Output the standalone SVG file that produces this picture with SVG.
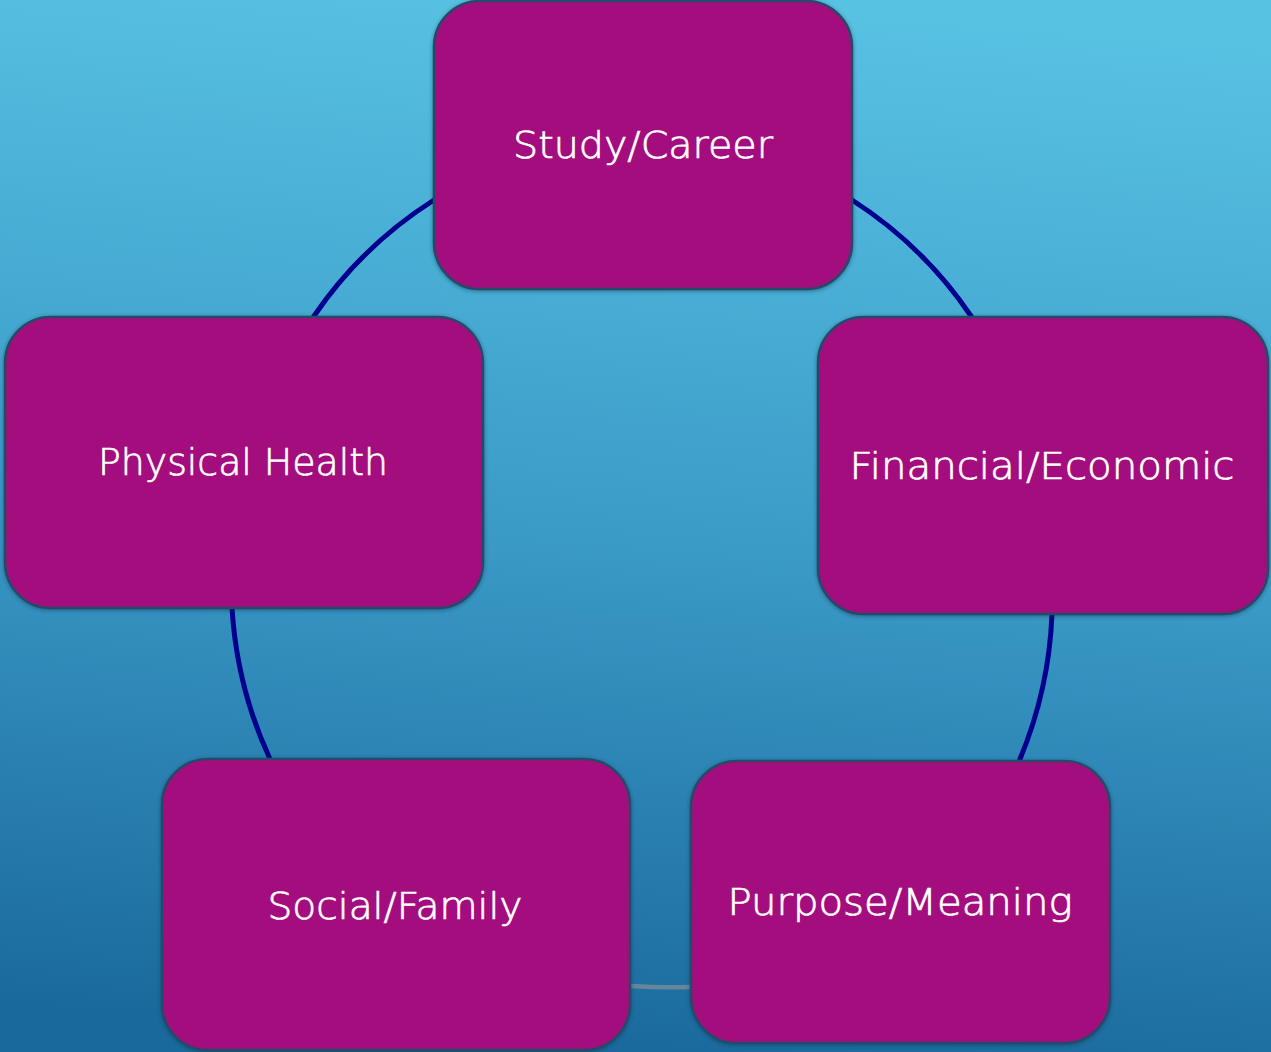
<svg xmlns="http://www.w3.org/2000/svg" width="1271" height="1052" viewBox="0 0 1271 1052">
  <defs>
    <linearGradient id="bg" x1="0.55" y1="0" x2="0.45" y2="1">
      <stop offset="0" stop-color="#58C2E3"/>
      <stop offset="0.5" stop-color="#3C9CC8"/>
      <stop offset="1" stop-color="#1A699D"/>
    </linearGradient>
    <filter id="shadow" x="-10%" y="-10%" width="120%" height="120%">
      <feGaussianBlur in="SourceAlpha" stdDeviation="2"/>
      <feOffset dx="0" dy="1" result="b"/>
      <feFlood flood-color="#12314a" flood-opacity="0.5"/>
      <feComposite in2="b" operator="in"/>
      <feMerge>
        <feMergeNode/>
        <feMergeNode in="SourceGraphic"/>
      </feMerge>
    </filter>
  </defs>
  <style>
    .box { fill: #A4107E; stroke: #284868; stroke-width: 2.5; filter: url(#shadow); }
    .label { fill: #FFFFFF; stroke: #FFFFFF; stroke-width: 0.7; font-family: "DejaVu Sans", "Liberation Sans", sans-serif; font-weight: 200; font-size: 38px; text-anchor: middle; }
    .link { fill: none; stroke: #00008E; stroke-width: 5; stroke-linecap: round; }
    .link-soft { fill: none; stroke: #66869A; stroke-width: 4.5; stroke-linecap: round; }
  </style>

  <rect x="0" y="0" width="1271" height="1052" fill="url(#bg)"/>

  <!-- cycle arcs between the life areas -->
  <g id="connectors">
    <path class="link" d="M314,316 A412,412 0 0 1 434,200"/>
    <path class="link" d="M852,200 A412,412 0 0 1 971,316"/>
    <path class="link" d="M1052,614 A420,420 0 0 1 1020,759"/>
    <path class="link" d="M270,759 A420,420 0 0 1 232,608"/>
    <path class="link-soft" d="M631,986 Q661,988 691,987"/>
  </g>

  <g id="study-career">
    <rect class="box" x="434" y="1" width="418" height="288" rx="46"/>
    <text class="label" x="643" y="158" textLength="260" lengthAdjust="spacingAndGlyphs">Study/Career</text>
  </g>

  <g id="physical-health">
    <rect class="box" x="5" y="317" width="478" height="291" rx="46"/>
    <text class="label" x="243" y="475" textLength="290" lengthAdjust="spacingAndGlyphs">Physical Health</text>
  </g>

  <g id="financial-economic">
    <rect class="box" x="818" y="317" width="450" height="297" rx="46"/>
    <text class="label" x="1042" y="479" textLength="385" lengthAdjust="spacingAndGlyphs">Financial/Economic</text>
  </g>

  <g id="social-family">
    <rect class="box" x="162" y="759" width="468" height="291" rx="46"/>
    <text class="label" x="395" y="919" textLength="255" lengthAdjust="spacingAndGlyphs">Social/Family</text>
  </g>

  <g id="purpose-meaning">
    <rect class="box" x="691" y="761" width="419" height="282" rx="46"/>
    <text class="label" x="900" y="915" textLength="345" lengthAdjust="spacingAndGlyphs">Purpose/Meaning</text>
  </g>
</svg>
